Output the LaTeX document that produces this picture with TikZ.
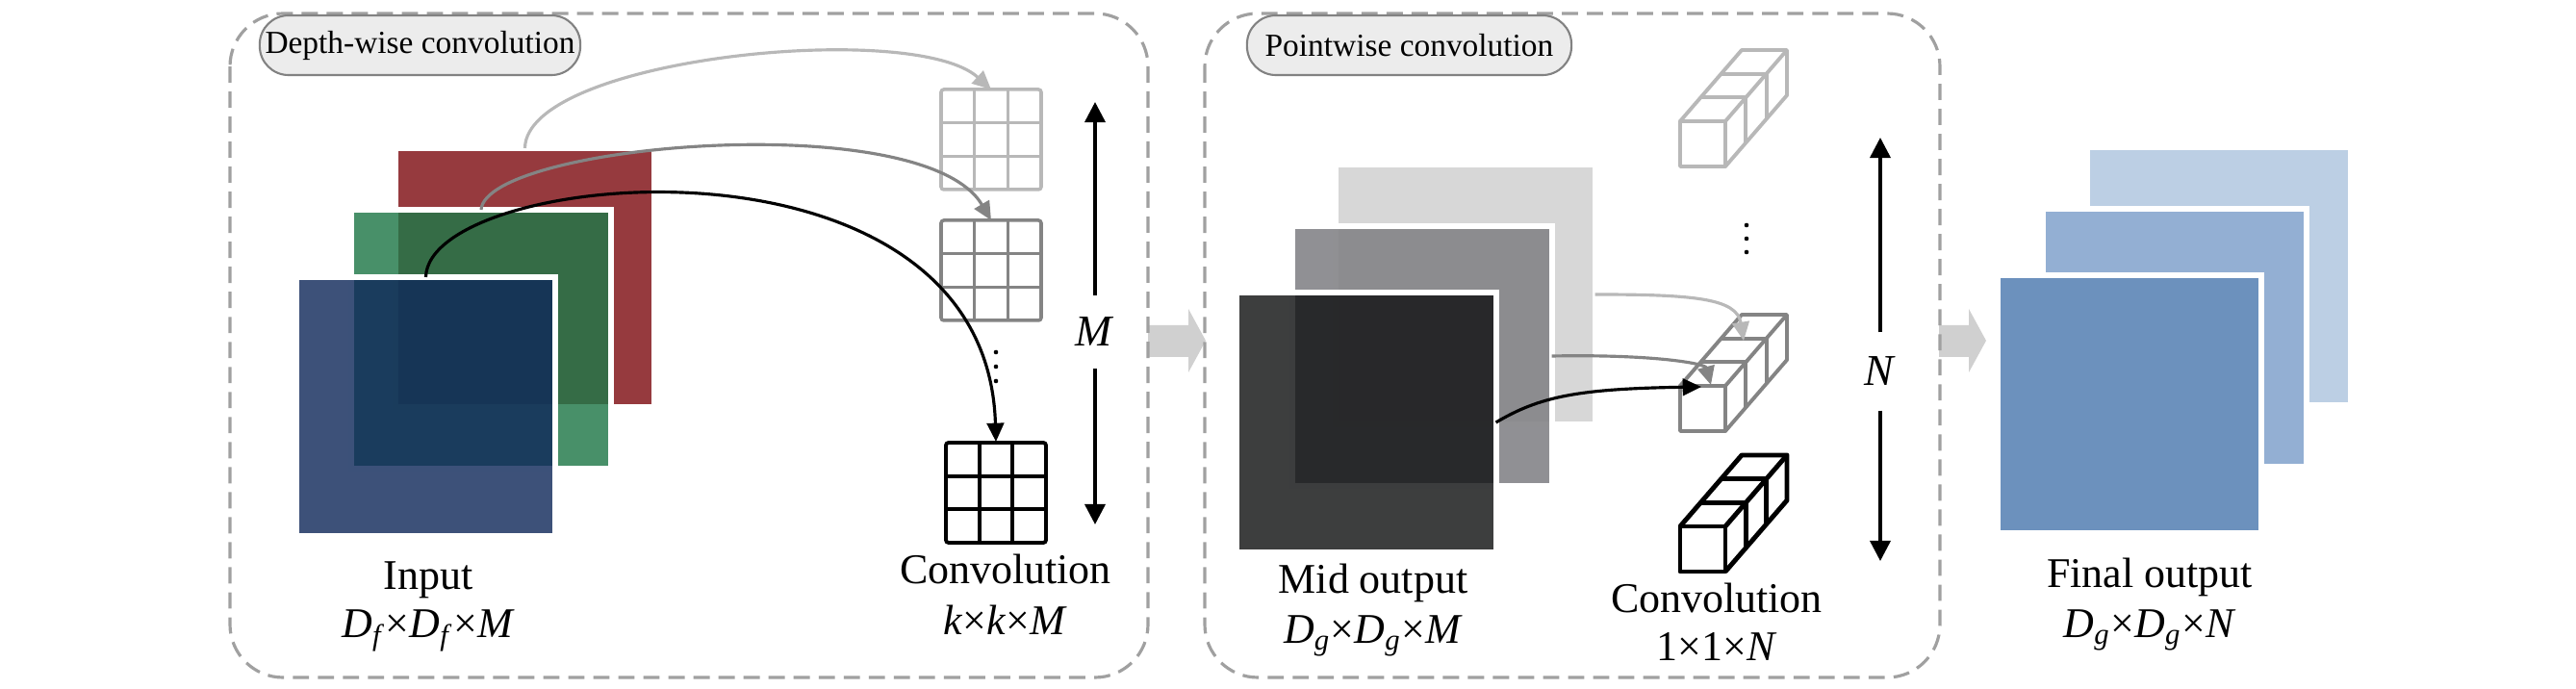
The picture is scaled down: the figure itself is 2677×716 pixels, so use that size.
\documentclass[tikz,border=0pt]{standalone}
\usepackage{fontspec}
\setmainfont{Liberation Serif}
\usetikzlibrary{arrows.meta}
\definecolor{redsq}{RGB}{150,58,62}
\definecolor{greensq}{RGB}{32,120,72}
\definecolor{bluesq}{RGB}{16,41,90}
\definecolor{gsqA}{RGB}{215,215,215}
\definecolor{gsqB}{RGB}{132,132,136}
\definecolor{gsqC}{RGB}{18,19,20}
\definecolor{bsqA}{RGB}{188,207,228}
\definecolor{bsqB}{RGB}{147,175,211}
\definecolor{bsqC}{RGB}{108,145,189}
\definecolor{lightln}{RGB}{184,184,184}
\definecolor{midln}{RGB}{132,132,132}
\definecolor{dashc}{RGB}{160,160,160}
\definecolor{pillfill}{RGB}{236,236,236}
\definecolor{pilldraw}{RGB}{130,130,130}
\definecolor{blockc}{RGB}{208,208,208}
\newcommand{\kgrid}[4]{%
  \draw[#3, line width=#4, rounded corners=0.8pt] (#1,#2) rectangle ({#1+104},{#2+104});
  \draw[#3, line width=#4] ({#1+34.67},#2) -- ({#1+34.67},{#2+104})
    ({#1+69.33},#2) -- ({#1+69.33},{#2+104})
    (#1,{#2+34.67}) -- ({#1+104},{#2+34.67})
    (#1,{#2+69.33}) -- ({#1+104},{#2+69.33});}
\newcommand{\cstack}[4]{%
  \begin{scope}[shift={(#1,#2)}, draw=#3, line width=#4, line join=round]
    \draw (0,0) rectangle (47,-47);
    \draw (0,-47) -- (64,-121) -- (111,-121) -- (111,-74) -- (47,0);
    \draw (47,-47) -- (111,-121);
    \draw (21.3,-71.7) -- (68.3,-71.7) -- (68.3,-24.7);
    \draw (42.7,-96.4) -- (89.7,-96.4) -- (89.7,-49.4);
  \end{scope}}
\begin{document}
\begin{tikzpicture}[x=0.01cm,y=-0.01cm,
  sq/.style={rectangle, minimum width=2.69cm, minimum height=2.69cm, inner sep=0pt, outer sep=0pt, draw=white, line width=0.06cm},
  bsq/.style={sq, minimum width=2.73cm, minimum height=2.68cm},
  pill/.style={draw=pilldraw, fill=pillfill, line width=0.6pt, rounded corners=0.3cm, minimum height=0.62cm, inner sep=0pt, font=\fontsize{9.5}{11}\selectfont},
  lbl/.style={font=\fontsize{12.5}{15}\selectfont, inner sep=0pt, anchor=base},
  dashbox/.style={draw=dashc, line width=0.9pt, dash pattern=on 4.8pt off 2.6pt, rounded corners=0.55cm},
  carrow/.style={line width=0.9pt, -{Triangle[length=5.5pt,width=5pt]}},
  varrow/.style={line width=1pt, -{Triangle[length=6pt,width=6pt]}},
  blockarrow/.style={fill=blockc}
]
\useasboundingbox (0,0) rectangle (2677,716);

% block arrows
\fill[blockarrow] (1193,338) -- (1235,338) -- (1235,321) -- (1253,354) -- (1235,387) -- (1235,371) -- (1193,371) -- cycle;
\fill[blockarrow] (2015,338) -- (2046,338) -- (2046,321) -- (2064,354) -- (2046,387) -- (2046,371) -- (2015,371) -- cycle;

% section boxes
\draw[dashbox] (239,14) rectangle (1193,704);
\draw[dashbox] (1252,14) rectangle (2016,704);
\node[pill, minimum width=3.33cm] (dwtitle) at (436.5,47) {Depth-wise convolution};
\node[pill, minimum width=3.37cm] (pwtitle) at (1464.5,47) {Pointwise convolution};

% input feature maps
\node[sq, fill=redsq] (red) at (545.5,288.5) {};
\node[sq, fill=greensq, fill opacity=0.82] (green) at (500,352.5) {};
\node[sq, fill=bluesq, fill opacity=0.81] (blue) at (442.5,422.5) {};

% depth-wise kernels
\kgrid{978}{93}{lightln}{1pt}
\kgrid{978}{229}{midln}{1pt}
\kgrid{983}{460}{black}{1.1pt}
\coordinate (g1) at (1030,93);
\coordinate (g2) at (1030,229);
\coordinate (g3) at (1035,459);
\fill (1035,366) circle (2.3) (1035,381) circle (2.3) (1035,396) circle (2.3);

\draw[carrow, lightln] (red.north) .. controls (547,60) and (950,20) .. (g1);
\draw[carrow, midln] (green.north) .. controls (505,150) and (960,110) .. (g2);
\draw[carrow, black] (blue.north) .. controls (445,175) and (1025,120) .. (g3);

% M arrow
\node[font=\fontsize{13}{15}\selectfont, inner sep=0pt, minimum height=0.75cm] (Mlbl) at (1138,345) {\textit{M}};
\coordinate (Mtop) at (1138,106);
\coordinate (Mbot) at (1138,545);
\draw[varrow] (Mlbl.north) -- (Mtop);
\draw[varrow] (Mlbl.south) -- (Mbot);

% mid output maps
\node[sq, fill=gsqA] (light) at (1523,306) {};
\node[sq, fill=gsqB, fill opacity=0.9] (mid) at (1478,370) {};
\node[sq, fill=gsqC, fill opacity=0.82] (dark) at (1420,439) {};

% pointwise kernels
\cstack{1746}{173}{lightln}{1.1pt}
\cstack{1746}{448}{midln}{1.1pt}
\cstack{1746}{594}{black}{1.4pt}
\fill (1815,234) circle (2.3) (1815,248) circle (2.3) (1815,262) circle (2.3);
\coordinate (p1) at (1812,354);
\coordinate (p2) at (1778,400);
\coordinate (p3) at (1768,402);
\draw[carrow, lightln] (light.east) .. controls (1760,306) and (1805,310) .. (p1);
\draw[carrow, midln] (mid.east) .. controls (1720,368) and (1772,378) .. (p2);
\draw[carrow, black] (dark.east) .. controls (1600,412) and (1640,404) .. (p3);

% N arrow
\node[font=\fontsize{13}{15}\selectfont, inner sep=0pt, minimum height=0.8cm] (Nlbl) at (1954,386) {\textit{N}};
\coordinate (Ntop) at (1954,143);
\coordinate (Nbot) at (1954,583);
\draw[varrow] (Nlbl.north) -- (Ntop);
\draw[varrow] (Nlbl.south) -- (Nbot);

% final output maps
\node[bsq, fill=bsqA] (fa) at (2306,287) {};
\node[bsq, fill=bsqB] (fb) at (2260,351) {};
\node[bsq, fill=bsqC] (fc) at (2213,420) {};

% labels
\node[lbl] (inlbl) at (445,613) {Input};
\node[lbl] (indim) at (445,663) {\textit{D}\textsubscript{\textit{f}}×\textit{D}\textsubscript{\textit{f}}×\textit{M}};
\node[lbl] (dwlbl) at (1045,607) {Convolution};
\node[lbl] (dwdim) at (1045,660) {\textit{k}×\textit{k}×\textit{M}};
\node[lbl] (midlbl) at (1427,617) {Mid output};
\node[lbl] (middim) at (1427,669) {\textit{D}\textsubscript{\textit{g}}×\textit{D}\textsubscript{\textit{g}}×\textit{M}};
\node[lbl] (pwlbl) at (1784,637) {Convolution};
\node[lbl] (pwdim) at (1784,687) {1×1×\textit{N}};
\node[lbl] (finlbl) at (2234,611) {Final output};
\node[lbl] (findim) at (2234,663) {\textit{D}\textsubscript{\textit{g}}×\textit{D}\textsubscript{\textit{g}}×\textit{N}};
\end{tikzpicture}
\end{document}
